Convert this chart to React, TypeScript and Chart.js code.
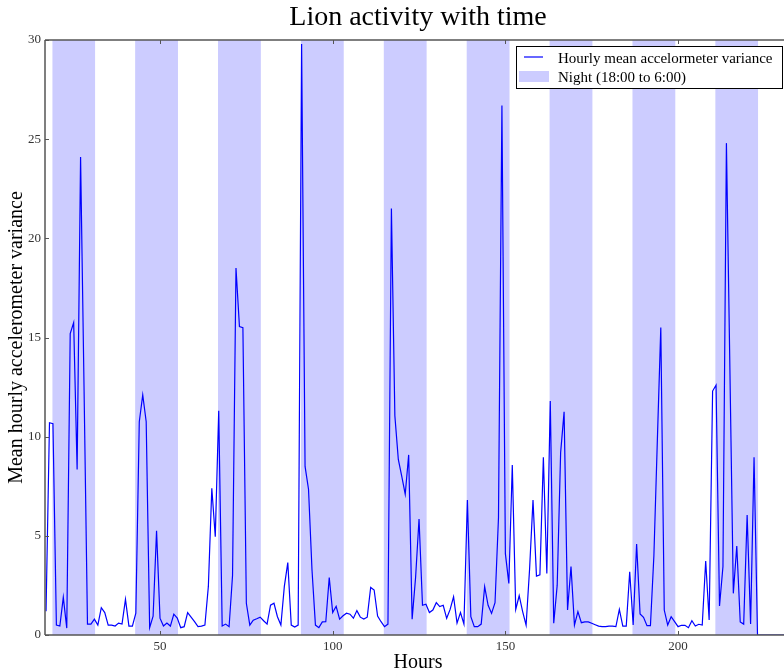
import React, { useEffect, useRef } from "react";
import Chart from "chart.js/auto";

// ---- data ----
const FIRST_HOUR = 17;
// Hourly mean accelerometer variance, hour 17 onward (one value per hour)
const activity: number[] = [
  1.2, 10.7, 10.65, 0.5, 0.45, 1.9, 0.35, 15.2, 15.75, 8.35, // 17-26
  24.1, 12.5, 0.55, 0.55, 0.8, 0.5, 1.38, 1.13, 0.5, 0.5, // 27-36
  0.45, 0.6, 0.55, 1.8, 0.45, 0.45, 1.1, 10.75, 12.1, 10.75, // 37-46
  0.37, 0.95, 5.25, 0.85, 0.45, 0.6, 0.45, 1.05, 0.85, 0.37, // 47-56
  0.42, 1.13, 0.9, 0.67, 0.42, 0.45, 0.5, 2.45, 7.4, 4.95, // 57-66
  11.3, 0.45, 0.55, 0.42, 3.0, 18.5, 15.55, 15.5, 1.6, 0.5, // 67-76
  0.75, 0.82, 0.9, 0.72, 0.55, 1.5, 1.6, 0.92, 0.5, 2.45, // 77-86
  3.65, 0.5, 0.4, 0.5, 29.8, 8.5, 7.35, 3.3, 0.5, 0.37, // 87-96
  0.66, 0.67, 2.9, 1.13, 1.45, 0.8, 0.97, 1.1, 1.05, 0.85, // 97-106
  1.23, 0.9, 0.8, 0.9, 2.4, 2.27, 0.96, 0.67, 0.42, 0.55, // 107-116
  21.5, 11.05, 8.85, 8.0, 7.1, 9.08, 0.8, 2.9, 5.85, 1.5, // 117-126
  1.55, 1.13, 1.26, 1.63, 1.43, 1.5, 0.84, 1.29, 1.93, 0.6, // 127-136
  1.13, 0.55, 6.8, 0.92, 0.42, 0.42, 0.55, 2.44, 1.5, 1.09, // 137-146
  1.63, 5.9, 26.7, 4.1, 2.6, 8.57, 1.29, 1.98, 1.18, 0.5, // 147-156
  3.3, 6.8, 2.97, 3.03, 8.96, 3.1, 11.8, 0.59, 2.5, 9.2, // 157-166
  11.25, 1.26, 3.45, 0.5, 1.18, 0.62, 0.66, 0.66, 0.59, 0.52, // 167-176
  0.45, 0.42, 0.42, 0.45, 0.45, 0.42, 1.29, 0.45, 0.45, 3.19, // 177-186
  0.5, 4.59, 1.06, 0.89, 0.47, 0.47, 4.0, 9.8, 15.5, 1.26, // 187-196
  0.5, 0.92, 0.67, 0.42, 0.49, 0.49, 0.37, 0.72, 0.45, 0.54, // 197-206
  0.5, 3.73, 0.76, 12.3, 12.6, 1.46, 3.45, 24.8, 13.5, 2.1, // 207-216
  4.49, 0.66, 0.55, 6.05, 0.55, 8.96, 0, 0, 0, 0, // 217-226
  0, 0, 0, 0, 0, 0, 0, 0, // 227-234
];
const hours = activity.map((_, i) => FIRST_HOUR + i);

// Night periods (18:00 to 6:00) in plot hours
const nightStarts = [18.8, 42.8, 66.8, 90.8, 114.8, 138.8, 162.8, 186.8, 210.8];
const nightEnds = [31.2, 55.2, 79.2, 103.2, 127.2, 151.2, 175.2, 199.2, 223.2];

const xTicks = [50, 100, 150, 200];
const yTicks = [0, 5, 10, 15, 20, 25, 30];
const X_MIN = 16.7;
const X_MAX = 232.7;
const Y_MIN = 0;
const Y_MAX = 30;

const TITLE = "Lion activity with time";
const X_LABEL = "Hours";
const Y_LABEL = "Mean hourly accelerometer variance";
const LEGEND_LINE = "Hourly mean accelormeter variance";
const LEGEND_NIGHT = "Night (18:00 to 6:00)";

const LINE_COLOR = "#0000ff";
const NIGHT_COLOR = "rgb(204,204,255)";
const SPINE_COLOR = "#555555";
const FONT = '"Liberation Serif", "Times New Roman", serif';

export default function App() {
  const ref = useRef<HTMLCanvasElement | null>(null);

  useEffect(() => {
    const canvas = ref.current;
    if (!canvas) return;

    const nightData: { x: number; y: number }[] = [];
    nightStarts.forEach((s, i) => {
      const e = nightEnds[i];
      nightData.push({ x: s, y: Y_MIN }, { x: s, y: Y_MAX }, { x: e, y: Y_MAX }, { x: e, y: Y_MIN });
    });

    const framePlugin = {
      id: "frame",
      afterDatasetsDraw(chart: any) {
        const { ctx, chartArea: a, scales } = chart;
        const xs = scales.x;
        const ys = scales.y;
        ctx.save();
        ctx.strokeStyle = SPINE_COLOR;
        ctx.lineWidth = 1.5;
        ctx.beginPath();
        ctx.moveTo(a.left, a.top);
        ctx.lineTo(a.left, a.bottom);
        ctx.moveTo(a.left, a.top);
        ctx.lineTo(a.right, a.top);
        ctx.moveTo(a.left, a.bottom);
        ctx.lineTo(a.right, a.bottom);
        ctx.moveTo(a.right, a.top);
        ctx.lineTo(a.right, a.bottom);
        ctx.stroke();
        ctx.lineWidth = 1;
        ctx.beginPath();
        const L = 4;
        xs.ticks.forEach((t: any) => {
          const px = Math.round(xs.getPixelForValue(t.value)) + 0.5;
          ctx.moveTo(px, a.bottom);
          ctx.lineTo(px, a.bottom - L);
          ctx.moveTo(px, a.top);
          ctx.lineTo(px, a.top + L);
        });
        ys.ticks.forEach((t: any) => {
          const py = Math.round(ys.getPixelForValue(t.value)) + 0.5;
          ctx.moveTo(a.left, py);
          ctx.lineTo(a.left + L, py);
          ctx.moveTo(a.right, py);
          ctx.lineTo(a.right - L, py);
        });
        ctx.stroke();
        ctx.restore();
      },
      afterDraw(chart: any) {
        const { ctx, chartArea: a } = chart;
        const cx = (a.left + a.right) / 2;
        ctx.save();
        ctx.fillStyle = "#000";
        ctx.textAlign = "center";
        ctx.textBaseline = "alphabetic";
        ctx.font = `28px ${FONT}`;
        ctx.fillText(TITLE, cx, 25);
        ctx.font = `20px ${FONT}`;
        ctx.fillText(X_LABEL, cx, 668);
        ctx.save();
        ctx.translate(22, (a.top + a.bottom) / 2);
        ctx.rotate(-Math.PI / 2);
        ctx.fillText(Y_LABEL, 0, 0);
        ctx.restore();

        // legend
        const bx = 516, by = 46, bw = 266, bh = 42;
        ctx.fillStyle = "#fff";
        ctx.fillRect(bx, by, bw, bh);
        ctx.strokeStyle = "#000";
        ctx.lineWidth = 1;
        ctx.strokeRect(bx + 0.5, by + 0.5, bw, bh);
        ctx.strokeStyle = LINE_COLOR;
        ctx.lineWidth = 1.2;
        ctx.beginPath();
        ctx.moveTo(524, 57);
        ctx.lineTo(543, 57);
        ctx.stroke();
        ctx.fillStyle = NIGHT_COLOR;
        ctx.fillRect(519, 71, 30, 11);
        ctx.fillStyle = "#000";
        ctx.textAlign = "left";
        ctx.font = `15px ${FONT}`;
        ctx.fillText(LEGEND_LINE, 558, 62.5);
        ctx.fillText(LEGEND_NIGHT, 558, 81.5);
        ctx.restore();
      },
    };

    const chart = new Chart(canvas, {
      type: "line",
      data: {
        datasets: [
          {
            label: LEGEND_LINE,
            data: hours.map((h, i) => ({ x: h, y: activity[i] })),
            borderColor: LINE_COLOR,
            borderWidth: 1.2,
            pointRadius: 0,
            tension: 0,
            fill: false,
          },
          {
            label: LEGEND_NIGHT,
            data: nightData,
            borderWidth: 0,
            borderColor: "rgba(0,0,0,0)",
            backgroundColor: NIGHT_COLOR,
            pointRadius: 0,
            tension: 0,
            fill: "origin",
          },
        ],
      },
      options: {
        animation: false,
        responsive: false,
        maintainAspectRatio: false,
        events: [],
        layout: { padding: { top: 40, right: 1, left: 0, bottom: 0 } },
        plugins: {
          legend: { display: false },
          title: { display: false },
          tooltip: { enabled: false },
        },
        scales: {
          x: {
            type: "linear",
            min: X_MIN,
            max: X_MAX,
            grid: { display: false, drawTicks: false },
            border: { display: false },
            afterBuildTicks: (scale: any) => {
              scale.ticks = xTicks.map((v) => ({ value: v }));
            },
            afterFit: (scale: any) => {
              scale.height = 36;
            },
            ticks: {
              padding: 4,
              maxRotation: 0,
              autoSkip: false,
              color: "#333",
              font: { family: FONT, size: 13 },
            },
          },
          y: {
            type: "linear",
            min: Y_MIN,
            max: Y_MAX,
            grid: { display: false, drawTicks: false },
            border: { display: false },
            afterBuildTicks: (scale: any) => {
              scale.ticks = yTicks.map((v) => ({ value: v }));
            },
            afterFit: (scale: any) => {
              scale.width = 45;
            },
            ticks: {
              padding: 4,
              autoSkip: false,
              color: "#333",
              font: { family: FONT, size: 13 },
            },
          },
        },
      },
      plugins: [framePlugin],
    } as any);

    return () => chart.destroy();
  }, []);

  return (
    <div
      style={{
        position: "fixed",
        left: 0,
        top: 0,
        width: 784,
        height: 671,
        overflow: "hidden",
        background: "#fff",
      }}
    >
      <canvas ref={ref} width={792} height={671} style={{ width: 792, height: 671, display: "block" }} />
    </div>
  );
}
